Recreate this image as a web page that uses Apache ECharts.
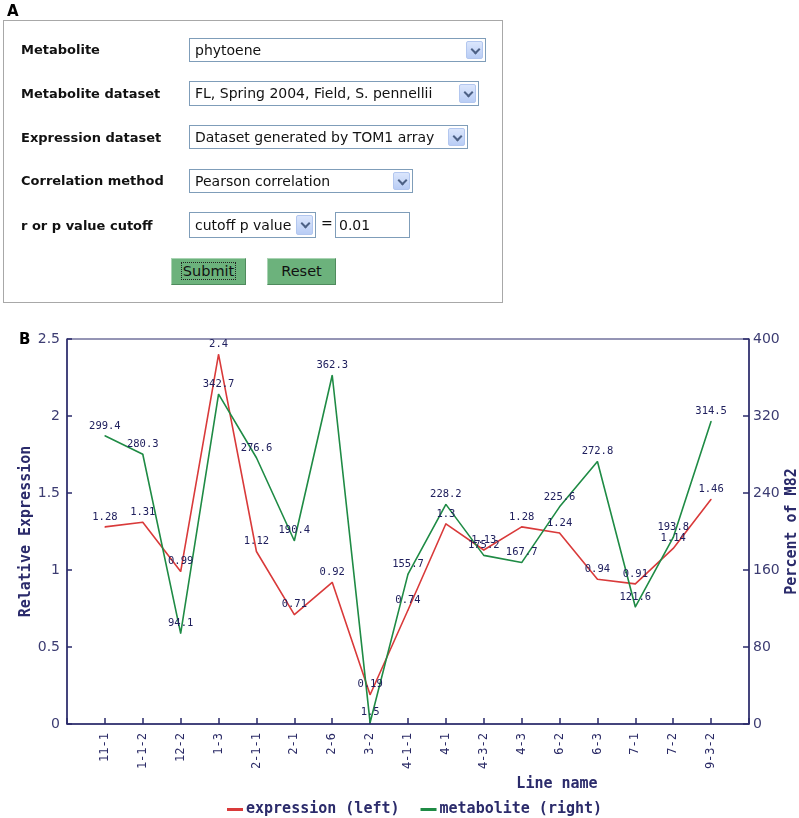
<!DOCTYPE html>
<html>
<head>
<meta charset="utf-8">
<script src="https://cdn.jsdelivr.net/npm/echarts@6/dist/echarts.min.js"></script>
<style>
  html, body { margin: 0; padding: 0; background: #fff; overflow: hidden; width: 799px; height: 818px; }
  #chart { position: absolute; left: 0; top: 0; width: 799px; height: 818px; }
  .abs { position: absolute; }
  .panel { position: absolute; left: 3px; top: 20px; width: 500px; height: 283px; box-sizing: border-box; border: 1px solid #a8a8a8; }
  .tag { position: absolute; font-family: "DejaVu Sans", sans-serif; font-weight: bold; font-size: 15px; color: #000; }
  .lbl { position: absolute; left: 21px; font-family: "DejaVu Sans", sans-serif; font-weight: bold; font-size: 13px; color: #111; line-height: 16px; }
  .sel { position: absolute; box-sizing: border-box; border: 1px solid #7f9db9; background: #fff; font-family: "DejaVu Sans", sans-serif; font-size: 14px; color: #111; padding-left: 5px; white-space: nowrap; overflow: hidden; }
  .btnd { position: absolute; right: 2px; top: 2px; bottom: 2px; width: 17px; box-sizing: border-box; border: 1px solid #b3c7ef; background: linear-gradient(#dbe6fc, #b9cdf5); border-radius: 2px; }
  .btnd::after { content: ""; position: absolute; left: 5px; top: 4px; width: 5px; height: 5px; border-right: 2px solid #4d6185; border-bottom: 2px solid #4d6185; transform: rotate(45deg); }
  .btn { position: absolute; box-sizing: border-box; background: #6cb27c; border: 1px solid #4f8a5d; border-top-color: #a9d3b3; border-left-color: #a9d3b3; font-family: "DejaVu Sans", sans-serif; font-size: 14.5px; color: #111; text-align: center; }
</style>
</head>
<body>
<div id="chart"></div>

<div class="tag" style="left:7px; top:2px;">A</div>
<div class="panel"></div>
<div class="lbl" style="top:42px;">Metabolite</div>
<div class="lbl" style="top:86px;">Metabolite dataset</div>
<div class="lbl" style="top:130px;">Expression dataset</div>
<div class="lbl" style="top:173px;">Correlation method</div>
<div class="lbl" style="top:218px;">r or p value cutoff</div>

<div class="sel" style="left:189px; top:38px; width:297px; height:24px; line-height:22px;">phytoene<span class="btnd"></span></div>
<div class="sel" style="left:189px; top:81px; width:290px; height:25px; line-height:23px;">FL, Spring 2004, Field, S. pennellii<span class="btnd"></span></div>
<div class="sel" style="left:189px; top:125px; width:279px; height:24px; line-height:22px;">Dataset generated by TOM1 array<span class="btnd"></span></div>
<div class="sel" style="left:189px; top:169px; width:224px; height:24px; line-height:22px;">Pearson correlation<span class="btnd"></span></div>
<div class="sel" style="left:189px; top:212px; width:127px; height:26px; line-height:24px;">cutoff p value<span class="btnd"></span></div>
<div class="abs" style="left:321px; top:215px; font-family:'DejaVu Sans',sans-serif; font-size:14px; color:#111;">=</div>
<div class="sel" style="left:335px; top:212px; width:75px; height:26px; line-height:24px; padding-left:3px;">0.01</div>

<div class="btn" style="left:171px; top:258px; width:75px; height:27px; line-height:25px;"><span style="border:1px dotted #222; padding:0 1px;">Submit</span></div>
<div class="btn" style="left:267px; top:258px; width:69px; height:27px; line-height:25px;">Reset</div>

<div class="tag" style="left:19px; top:330px;">B</div>

<script>
const categories = ["11-1","1-1-2","12-2","1-3","2-1-1","2-1","2-6","3-2","4-1-1","4-1","4-3-2","4-3","6-2","6-3","7-1","7-2","9-3-2"];
const expression = [1.28,1.31,0.99,2.4,1.12,0.71,0.92,0.19,0.74,1.3,1.13,1.28,1.24,0.94,0.91,1.14,1.46];
const metabolite = [299.4,280.3,94.1,342.7,276.6,190.4,362.3,1.5,155.7,228.2,175.2,167.7,225.6,272.8,121.6,193.8,314.5];
const leftTicks = [0, 0.5, 1, 1.5, 2, 2.5];
const rightTicks = [0, 80, 160, 240, 320, 400];

const NAVY = '#2b2b6b';
const TXT = '#3c3c72';
const RED = '#d93a3a';
const GREEN = '#1f8b45';
const MONO = '"DejaVu Sans Mono", monospace';

const xCats = [''].concat(categories, ['']);
const pad = arr => [null].concat(arr, [null]);

const chart = echarts.init(document.getElementById('chart'), null, { renderer: 'canvas', width: 799, height: 818 });
const labelStyle = { show: true, position: 'top', distance: 4, fontFamily: MONO, fontSize: 10.5, color: '#20205e' };

chart.setOption({
  animation: false,
  grid: { left: 67, right: 50, top: 339, bottom: 94, containLabel: false, outerBoundsMode: 'none',
          show: true, borderColor: NAVY, borderWidth: 1, backgroundColor: 'transparent' },
  legend: {
    left: 222, top: 797, itemWidth: 16, itemHeight: 3, itemGap: 21, icon: 'rect',
    textStyle: { fontFamily: MONO, fontWeight: 'bold', fontSize: 15, color: NAVY, padding: [0, 0, 0, -2] },
    data: ['expression (left)', 'metabolite (right)']
  },
  xAxis: {
    type: 'category', data: xCats, boundaryGap: false,
    name: 'Line name', nameLocation: 'middle', nameGap: 53, nameMoveOverlap: false,
    nameTextStyle: { fontFamily: MONO, fontWeight: 'bold', fontSize: 15, color: NAVY, padding: [0, 0, 0, 298] },
    axisLine: { lineStyle: { color: NAVY, width: 1.5 } },
    axisTick: { inside: true, length: 6, lineStyle: { color: NAVY, width: 1.5 } },
    axisLabel: { rotate: 90, interval: 0, margin: 9, fontFamily: MONO, fontSize: 12, color: '#2a2a66' },
    splitLine: { show: false }
  },
  yAxis: [
    {
      type: 'value', min: leftTicks[0], max: leftTicks[leftTicks.length - 1], interval: leftTicks[1] - leftTicks[0], position: 'left',
      name: 'Relative Expression', nameLocation: 'middle', nameGap: 33, nameRotate: 90, nameMoveOverlap: false,
      nameTextStyle: { fontFamily: MONO, fontWeight: 'bold', fontSize: 15, color: NAVY },
      axisLine: { show: true, lineStyle: { color: NAVY, width: 1.5 } },
      axisTick: { show: true, inside: true, length: 5, lineStyle: { color: NAVY, width: 1.5 } },
      axisLabel: { margin: 7, fontFamily: '"DejaVu Sans", sans-serif', fontSize: 14, color: TXT },
      splitLine: { show: false }
    },
    {
      type: 'value', min: rightTicks[0], max: rightTicks[rightTicks.length - 1], interval: rightTicks[1] - rightTicks[0], position: 'right',
      name: 'Percent of M82', nameLocation: 'middle', nameGap: 36, nameRotate: 90, nameMoveOverlap: false,
      nameTextStyle: { fontFamily: MONO, fontWeight: 'bold', fontSize: 15, color: NAVY },
      axisLine: { show: true, lineStyle: { color: NAVY, width: 1.5 } },
      axisTick: { show: true, inside: true, length: 6, lineStyle: { color: NAVY, width: 1.5 } },
      axisLabel: { margin: 4, fontFamily: '"DejaVu Sans", sans-serif', fontSize: 14, color: TXT },
      splitLine: { show: false }
    }
  ],
  series: [
    {
      name: 'expression (left)', type: 'line', yAxisIndex: 0, data: pad(expression),
      symbol: 'circle', symbolSize: 1, showSymbol: true,
      itemStyle: { color: RED }, lineStyle: { color: RED, width: 1.6 },
      label: labelStyle
    },
    {
      name: 'metabolite (right)', type: 'line', yAxisIndex: 1, data: pad(metabolite),
      symbol: 'circle', symbolSize: 1, showSymbol: true,
      itemStyle: { color: GREEN }, lineStyle: { color: GREEN, width: 1.6 },
      label: labelStyle
    }
  ]
});
</script>
</body>
</html>
